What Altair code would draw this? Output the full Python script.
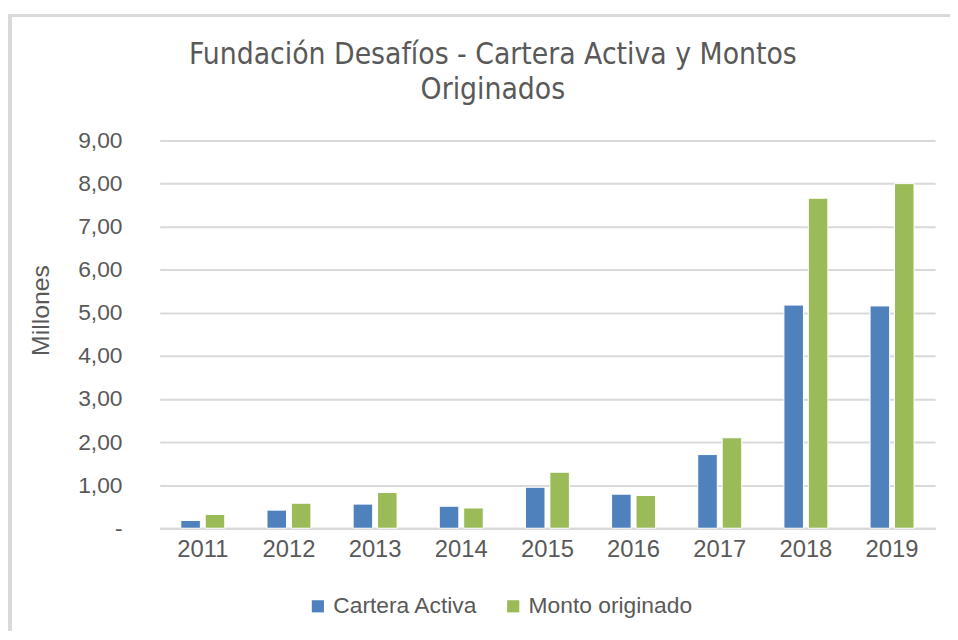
import altair as alt
import pandas as pd

years = ["2011", "2012", "2013", "2014", "2015", "2016", "2017", "2018", "2019"]
cartera_activa = [0.18, 0.42, 0.56, 0.51, 0.95, 0.79, 1.71, 5.18, 5.16]
monto_originado = [0.32, 0.58, 0.83, 0.47, 1.30, 0.76, 2.10, 7.66, 8.00]
series = ["Cartera Activa", "Monto originado"]
colors = ["#4F81BD", "#9BBB59"]

rows = []
for y, a, m in zip(years, cartera_activa, monto_originado):
    rows.append({"year": y, "serie": series[0], "value": a})
    rows.append({"year": y, "serie": series[1], "value": m})
df = pd.DataFrame(rows)

FONT = "Liberation Sans"
GRAY = "#595959"

bars = alt.Chart(df).mark_bar(stroke="white", strokeWidth=1).encode(
    x=alt.X("year:N", sort=years, title=None,
            scale=alt.Scale(paddingInner=0.49, paddingOuter=0.245),
            axis=alt.Axis(labelAngle=0, labelFontSize=24, labelColor=GRAY, labelFont=FONT,
                          labelPadding=10, ticks=False, domainColor="#d9d9d9", domainWidth=2)),
    xOffset=alt.XOffset("serie:N", sort=series, scale=alt.Scale(paddingInner=0.2)),
    y=alt.Y("value:Q", title="Millones",
            scale=alt.Scale(domain=[0, 9], nice=False),
            axis=alt.Axis(values=[0, 1, 2, 3, 4, 5, 6, 7, 8, 9],
                          labelExpr="datum.value == 0 ? '-' : replace(format(datum.value, '.2f'), '.', ',')",
                          labelFontSize=23, labelColor=GRAY, labelFont=FONT, labelPadding=38,
                          ticks=False, domain=False, gridColor="#d9d9d9", gridWidth=2,
                          titleFontSize=25, titleColor=GRAY, titleFont=FONT, titleFontWeight="normal",
                          titleAngle=270, titleX=-120, titleY=171, titleAlign="center",
                          titleBaseline="middle")),
    color=alt.Color("serie:N", sort=series, scale=alt.Scale(domain=series, range=colors),
                    legend=alt.Legend(title=None, orient="none", direction="horizontal",
                                      legendX=148, legendY=458, symbolType="square",
                                      symbolSize=150, symbolStrokeWidth=0,
                                      labelFontSize=23, labelColor=GRAY, labelFont=FONT,
                                      labelLimit=400, columnPadding=24, labelOffset=4)),
)

border = alt.Chart(df).mark_rect(fill=None, stroke="#d9d9d9", strokeWidth=3).encode(
    x=alt.value(-151), x2=alt.value(900), y=alt.value(-126), y2=alt.value(600)
)

chart = alt.layer(border, bars).properties(
    width=782, height=391,
    autosize=alt.AutoSizeParams(type="none"),
    padding={"left": 153, "top": 131, "right": 15, "bottom": 101},
    title=alt.TitleParams(
        text=["Fundación Desafíos - Cartera Activa y Montos", "Originados"],
        font="DejaVu Sans Condensed, Roboto Condensed, Liberation Sans",
        fontSize=30, fontWeight="normal", color=GRAY,
        anchor="middle", frame="group", dx=-55, lineHeight=36, offset=-92,
    ),
).configure_view(stroke=None)

chart.save("out.html", embed_options={"renderer": "svg", "actions": False})
